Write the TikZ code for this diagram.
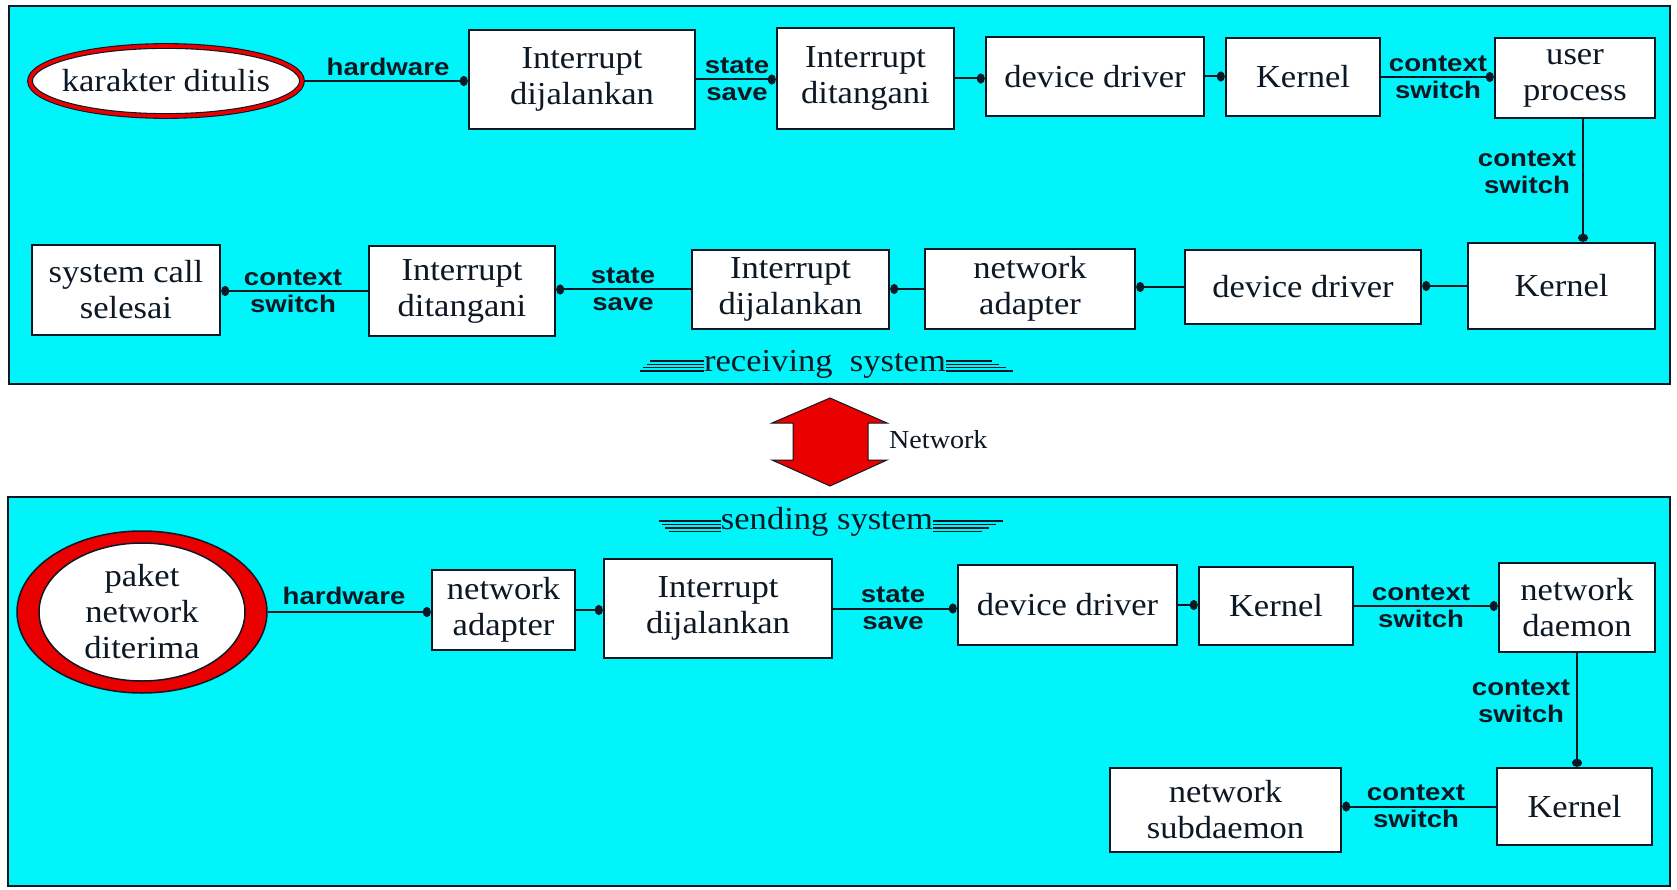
\documentclass[tikz,border=0pt]{standalone}
\usepackage{fontspec}
\setmainfont{Liberation Serif}
\newfontfamily\boxfont[FakeStretch=1.08]{Liberation Serif}
\newfontfamily\tagfont[FakeStretch=1.15]{Liberation Sans}
\usetikzlibrary{arrows.meta,shapes.geometric,calc}
\definecolor{panelcyan}{RGB}{0,245,250}
\definecolor{ink}{RGB}{12,24,36}
\definecolor{ringred}{RGB}{235,0,0}

\tikzset{
  stepbox/.style={draw=ink, line width=2.4pt, fill=white, inner sep=0pt, align=center,
    text=ink, font=\boxfont\fontsize{32}{36}\selectfont},
  sz/.style 2 args={minimum width=#1pt, minimum height=#2pt},
  conn/.style={draw=ink, line width=2pt, -{Circle[length=8pt,width=10pt]}},
  tag/.style={font=\tagfont\bfseries\fontsize{24}{27}\selectfont, text=ink,
    align=center, inner sep=0pt},
  panel/.style={draw=ink, line width=2.4pt, fill=panelcyan},
  caption/.style={font=\boxfont\fontsize{32}{36}\selectfont, text=ink, inner sep=0pt},
  rule/.style={draw=ink, line width=1.5pt},
  ring/.style={ellipse, draw=ink, text=ink, align=center, inner sep=0pt,
    font=\boxfont\fontsize{32}{36}\selectfont},
}

\begin{document}
\begin{tikzpicture}[x=1pt,y=-1pt]
\useasboundingbox (0,0) rectangle (1677,890);
\fill[white] (0,0) rectangle (1677,890);

% ---------- receiving system ----------
\draw[panel] (9,6) rectangle (1670,384);

\node[ring, fill=white, line width=1.1pt, double=ringred, double distance=3.6pt,
      minimum width=272pt, minimum height=70pt, inner xsep=-15pt, outer sep=3pt]
      (e1) at (166,81) {karakter ditulis};
\node[stepbox, sz={226}{99}]  (t1) at (582,79.5)   {Interrupt\\dijalankan};
\node[stepbox, sz={177}{101}] (t2) at (865.5,78.5) {Interrupt\\ditangani};
\node[stepbox, sz={218}{79}]  (t3) at (1095,76.5)  {device driver};
\node[stepbox, sz={154}{78}]  (t4) at (1303,77)    {Kernel};
\node[stepbox, sz={160}{80}]  (t5) at (1575,78)    {user\\process};

\node[stepbox, sz={187}{86}]  (r1) at (1561.5,286) {Kernel};
\node[stepbox, sz={236}{74}]  (r2) at (1303,287)   {device driver};
\node[stepbox, sz={210}{80}]  (r3) at (1030,289)   {network\\adapter};
\node[stepbox, sz={197}{79}]  (r4) at (790.5,289.5) {Interrupt\\dijalankan};
\node[stepbox, sz={186}{90}]  (r5) at (462,291)    {Interrupt\\ditangani};
\node[stepbox, sz={188}{90}]  (r6) at (126,290)    {system call\\selesai};

\draw[conn] (e1.east) -- (e1.east -| t1.west);
\draw[conn] (t1.east) -- (t1.east -| t2.west);
\draw[conn] (t2.east) -- (t2.east -| t3.west);
\draw[conn] (t3.east) -- (t3.east -| t4.west);
\draw[conn] (t4.east) -- (t4.east -| t5.west);
\draw[conn] ([xshift=8pt]t5.south) -- ([xshift=8pt]t5.south |- r1.north);
\draw[conn] (r1.west) -- (r1.west -| r2.east);
\draw[conn] (r2.west) -- (r2.west -| r3.east);
\draw[conn] (r3.west) -- (r3.west -| r4.east);
\draw[conn] (r4.west) -- (r4.west -| r5.east);
\draw[conn] (r5.west) -- (r5.west -| r6.east);

\node[tag] (l1) at (388,67)   {hardware};
\node[tag] (l2) at (737,79.5) {state\\save};
\node[tag] (l3) at (1438,77)  {context\\switch};
\node[tag] (l4) at (1527,172) {context\\switch};
\node[tag] (l5) at (623,289)  {state\\save};
\node[tag] (l6) at (293,291)  {context\\switch};

\node[caption, anchor=base] (rcv) at (825,371) {receiving\ \ system};
\foreach \i in {0,1,2,3}{
  \draw[rule] ([xshift={-54pt-3.3pt*\i}, yshift={10pt-3.3pt*\i}]rcv.base west)
           -- ([yshift={10pt-3.3pt*\i}]rcv.base west);
  \draw[rule] ([yshift={10pt-3.3pt*\i}]rcv.base east)
           -- ([xshift={46pt+7pt*\i}, yshift={10pt-3.3pt*\i}]rcv.base east);
}

% ---------- network link ----------
\draw[draw=ink, line width=1pt, fill=ringred]
  (830,398) -- (887,423) -- (868,423) -- (868,460) -- (887,460) -- (830,486)
  -- (772,460) -- (793,460) -- (793,423) -- (772,423) -- cycle;
\node[anchor=base west, inner sep=0pt, text=ink,
      font=\boxfont\fontsize{26}{30}\selectfont] (net) at (889,448) {Network};

% ---------- sending system ----------
\draw[panel] (8,497) rectangle (1670,886);

\node[caption, anchor=base] (snd) at (827,529) {sending system};
\foreach \i in {0,1,2,3}{
  \draw[rule] ([xshift={-62pt+3.3pt*\i}, yshift={8pt-3.5pt*\i}]snd.base west)
           -- ([yshift={8pt-3.5pt*\i}]snd.base west);
  \draw[rule] ([yshift={8pt-3.5pt*\i}]snd.base east)
           -- ([xshift={70pt-7pt*\i}, yshift={8pt-3.5pt*\i}]snd.base east);
}

% thick red ring: red ellipse with a white inner ellipse, wider at the sides
\node[ring, fill=ringred, line width=1.5pt,
      minimum width=250pt, minimum height=162pt,
      path picture={\draw[draw=ink, line width=1.5pt, fill=white]
        (path picture bounding box.center) ellipse (103pt and 69pt);}]
      (e2) at (142,612) {paket\\network\\diterima};
\node[stepbox, sz={143}{80}]  (s1) at (503.5,610)  {network\\adapter};
\node[stepbox, sz={228}{99}]  (s2) at (718,608.5)  {Interrupt\\dijalankan};
\node[stepbox, sz={219}{80}]  (s3) at (1067.5,605) {device driver};
\node[stepbox, sz={154}{78}]  (s4) at (1276,606)   {Kernel};
\node[stepbox, sz={156}{89}]  (s5) at (1577,607.5) {network\\daemon};
\node[stepbox, sz={155}{77}]  (s6) at (1574.5,806.5) {Kernel};
\node[stepbox, sz={231}{84}]  (s7) at (1225.5,810) {network\\subdaemon};

\draw[conn] (e2.east) -- (e2.east -| s1.west);
\draw[conn] (s1.east) -- (s1.east -| s2.west);
\draw[conn] (s2.east) -- (s2.east -| s3.west);
\draw[conn] (s3.east) -- (s3.east -| s4.west);
\draw[conn] (s4.east) -- (s4.east -| s5.west);
\draw[conn] (s5.south) -- (s5.south |- s6.north);
\draw[conn] (s6.west) -- (s6.west -| s7.east);

\node[tag] (m1) at (344,596)  {hardware};
\node[tag] (m2) at (893,608)  {state\\save};
\node[tag] (m3) at (1421,606) {context\\switch};
\node[tag] (m4) at (1521,701) {context\\switch};
\node[tag] (m5) at (1416,806) {context\\switch};
\end{tikzpicture}
\end{document}
